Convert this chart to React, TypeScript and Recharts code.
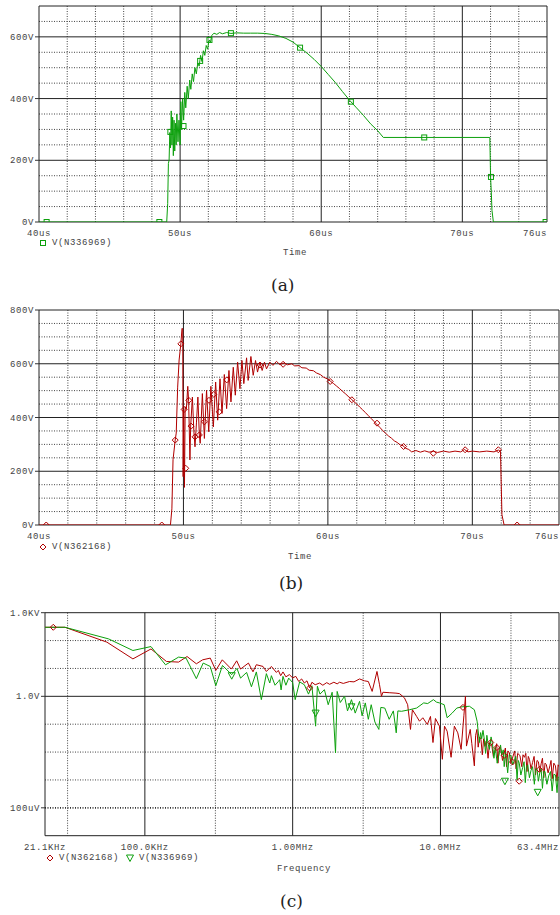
import React from "react";
import { ComposedChart, Line, Scatter, XAxis, YAxis, CartesianGrid } from "recharts";

const GREEN = "#0ca00c";
const RED = "#b00000";
const MONO = "'Liberation Mono', 'DejaVu Sans Mono', monospace";

// (a) V(N336969) transient: [time us, volts]
const waveA: [number, number][] = [
  [40, 0], [49.05, 0], [49.12, 60], [49.17, 190], [49.22, 200], [49.27, 290], [49.32, 240], [49.37, 360],
  [49.42, 250], [49.47, 340], [49.52, 215], [49.57, 330], [49.62, 230], [49.67, 320], [49.72, 250],
  [49.77, 350], [49.85, 260], [49.92, 330], [50.0, 250], [50.05, 390], [50.1, 300], [50.18, 400],
  [50.25, 330], [50.33, 420], [50.4, 370], [50.5, 440], [50.58, 400], [50.68, 460], [50.76, 430],
  [50.86, 480], [50.95, 455], [51.05, 500], [51.15, 480], [51.25, 515], [51.35, 505], [51.45, 540],
  [51.55, 520], [51.65, 555], [51.75, 540], [51.85, 572], [51.95, 560], [52.05, 590], [52.15, 583],
  [52.25, 605], [52.4, 612], [52.6, 608], [52.8, 614], [53.0, 610],
  [53.3, 614], [53.6, 611], [54.0, 613], [54.5, 612], [55.0, 612], [55.5, 612], [56.0, 611], [56.5, 608],
  [57.0, 603], [57.5, 595], [58.0, 583], [58.5, 565], [59.0, 547], [59.5, 527], [60.0, 504], [60.5, 478],
  [61.0, 452], [61.5, 423], [62.0, 395], [62.5, 370], [63.0, 345], [63.5, 318], [64.0, 296], [64.4, 274],
  [68.0, 274], [71.95, 274], [72.0, 146], [72.05, 100], [72.1, 38], [72.2, 0], [76, 0],
];
const marksA: [number, number][] = [
  [40.54, 0], [48.53, 0], [49.31, 292], [50.24, 311], [51.42, 522], [52.08, 590], [53.6, 612],
  [58.5, 565], [62.1, 390], [67.3, 274], [72.03, 146], [75.9, 0],
];

// (b) V(N362168) transient: [time us, volts]
const waveB: [number, number][] = [
  [40, 0], [49.1, 0], [49.2, 60], [49.28, 243], [49.43, 316], [49.5, 342], [49.6, 513], [49.7, 614],
  [49.82, 674], [49.9, 732], [49.95, 730], [49.98, 180], [50.02, 430], [50.07, 140], [50.12, 440],
  [50.2, 430], [50.3, 516], [50.36, 460], [50.45, 242], [50.5, 368], [50.62, 476], [50.72, 350],
  [50.8, 291], [50.9, 380], [51.0, 476], [51.1, 335], [51.16, 304], [51.31, 489], [51.45, 322],
  [51.6, 501], [51.75, 347], [51.9, 516], [52.07, 365], [52.23, 532], [52.37, 390], [52.53, 544],
  [52.67, 415], [52.83, 560], [52.99, 433], [53.15, 575], [53.29, 458], [53.45, 587], [53.59, 483],
  [53.75, 606], [53.91, 507], [54.05, 612], [54.18, 526], [54.37, 622], [54.48, 538], [54.67, 627],
  [54.83, 557], [54.99, 612], [55.13, 569], [55.29, 606], [55.45, 575], [55.61, 606], [55.75, 581],
  [55.98, 606], [56.2, 594], [56.44, 609], [56.67, 597], [57.0, 603], [57.2, 596], [57.5, 600],
  [57.7, 592], [58.0, 593], [58.2, 585], [58.5, 584], [58.7, 576], [59.0, 574], [59.2, 566], [59.5, 559],
  [59.7, 550], [60.0, 543], [60.2, 534], [60.4, 526], [60.6, 517], [60.8, 508], [61.0, 498], [61.2, 489],
  [61.4, 479], [61.6, 470], [61.8, 459], [62.0, 450], [62.2, 439], [62.4, 429], [62.6, 418], [62.8, 407],
  [63.0, 396], [63.2, 385], [63.4, 374], [63.6, 363], [63.8, 351], [64.0, 341], [64.2, 331], [64.4, 323],
  [64.6, 313], [64.8, 307], [65.0, 298], [65.2, 295], [65.4, 285], [65.6, 281], [65.8, 272], [66.1, 277],
  [66.4, 271], [66.7, 276], [67.0, 271], [67.3, 274], [67.6, 270], [68.0, 275], [68.4, 271], [68.8, 275],
  [69.2, 272], [69.45, 281], [69.7, 272], [70.0, 275], [70.5, 272], [71.0, 275], [71.5, 272], [71.8, 279],
  [71.95, 274], [72.0, 150], [72.05, 38], [72.2, 0], [76, 0],
];
const marksB: [number, number][] = [
  [40.5, 0], [48.5, 0], [49.43, 316], [49.82, 674], [50.05, 430], [50.16, 211], [50.37, 464],
  [50.53, 368], [50.8, 328], [51.1, 335], [51.45, 384], [51.77, 464], [52.1, 486], [52.48, 421],
  [53.0, 540], [55.3, 595], [56.9, 598], [60.16, 534], [61.66, 466], [63.4, 379], [65.24, 292],
  [67.3, 267], [69.5, 280], [71.8, 280], [73.1, 0],
];

const timeTicks = [40, 50, 60, 70, 76];
const timeLabels = ["40us", "50us", "60us", "70us", "76us"];
const timeMajor = [40, 50, 60, 70, 76];
const timeMinor = [42, 44, 46, 48, 52, 54, 56, 58, 62, 64, 66, 68, 72, 74];

const voltTicksA = [0, 200, 400, 600];
const voltLabelsA = ["0V", "200V", "400V", "600V"];
const voltMajorA = [0, 200, 400, 600, 700];
const voltMinorA = [50, 100, 150, 250, 300, 350, 450, 500, 550, 650];

const voltTicksB = [0, 200, 400, 600, 800];
const voltLabelsB = ["0V", "200V", "400V", "600V", "800V"];
const voltMajorB = [0, 200, 400, 600, 800];
const voltMinorB = [50, 100, 150, 250, 300, 350, 450, 500, 550, 650, 700, 750];

// (c) spectra: [frequency kHz, volts]
const specRed: [number, number][] = [
  [21.1, 300], [28.8, 300], [55.3, 88], [83, 22], [110, 50], [140, 17.8], [169, 16.9], [193, 26.8],
  [223, 14.7], [246, 20.4], [277, 23.5], [302, 8.5], [334, 20.4], [385, 9.5], [418, 18.8], [444, 9.5],
  [502, 15.6], [539, 7.6], [568, 13.6], [630, 11.8], [664, 7.8], [718, 11.8], [776, 7.2], [800, 8.5],
  [830, 5.5], [860, 7.5], [900, 5.0], [950, 6.0], [1000, 4.6], [1050, 5.2], [1100, 3.4], [1150, 4.2],
  [1200, 3.0], [1250, 3.6], [1302, 2.0], [1350, 3.2], [1420, 2.6], [1521, 3.0], [1600, 2.5], [1700, 3.1],
  [1778, 2.7], [1900, 3.2], [2000, 2.8], [2077, 3.2], [2200, 2.9], [2427, 3.4], [2600, 3.3], [2836, 4.2],
  [3064, 3.6], [3250, 3.4], [3450, 1.5], [3720, 7.8], [3870, 2.6], [3990, 1.0], [4080, 1.4], [4500, 1.35],
  [5000, 1.3], [5284, 1.25], [5706, 0.88], [6000, 0.5], [6270, 0.065], [6460, 0.33], [6900, 0.19],
  [7213, 0.128], [7600, 0.17], [8150, 0.098], [8560, 0.19], [8900, 0.022], [9250, 0.16], [9845, 0.085],
  [10300, 0.0055], [10650, 0.085], [11100, 0.056], [11800, 0.0065], [12420, 0.085], [13100, 0.049],
  [13800, 0.0125], [14400, 0.2], [14760, 1.0], [15000, 0.0164], [15900, 0.065], [16300, 0.02],
  [16955, 0.0032], [17300, 0.04], [17650, 0.065], [18000, 0.015], [18400, 0.035], [18800, 0.028],
  [19200, 0.008], [19600, 0.03], [20000, 0.016], [20400, 0.025], [21000, 0.006], [21500, 0.022],
  [22200, 0.019], [22800, 0.007], [23500, 0.0125], [24000, 0.02], [24500, 0.004], [25000, 0.015],
  [25600, 0.0125], [26300, 0.005], [27000, 0.0094], [27500, 0.014], [28000, 0.003], [28600, 0.011],
  [29260, 0.0094], [30000, 0.004], [31000, 0.0072], [31800, 0.011], [32500, 0.0025], [33300, 0.009],
  [34500, 0.0075], [35500, 0.003], [36200, 0.008], [37000, 0.0065], [37800, 0.009], [38500, 0.002],
  [39300, 0.007], [40000, 0.0055], [41000, 0.0025], [42000, 0.0042], [43000, 0.007], [44000, 0.0015],
  [45000, 0.005], [46000, 0.0045], [47000, 0.002], [48000, 0.0038], [49000, 0.006], [50000, 0.0012],
  [51000, 0.004], [52000, 0.0036], [53500, 0.0018], [55000, 0.0032], [56000, 0.005], [57000, 0.0011],
  [58500, 0.004], [60000, 0.0032], [61500, 0.0009], [62500, 0.0035], [63400, 0.003],
];
const specGreen: [number, number][] = [
  [21.1, 300], [28.8, 300], [56.8, 115], [83, 44], [110, 61], [138, 13.5], [169, 25.5], [190, 23.5],
  [223, 4.3], [248, 15.6], [277, 11.8], [302, 2.4], [335, 12.8], [387, 6.0], [420, 10], [444, 4.5],
  [488, 7.2], [526, 2.2], [568, 7.5], [614, 0.76], [664, 6.5], [700, 3.0], [718, 5.5], [760, 2.5],
  [800, 3.4], [817, 3.95], [835, 1.7], [860, 5.2], [900, 2.5], [940, 4.5], [1000, 3.1], [1040, 0.76],
  [1115, 3.3], [1200, 2.6], [1280, 1.2], [1350, 2.4], [1430, 0.085], [1470, 2.3], [1530, 1.2],
  [1640, 1.73], [1740, 0.5], [1850, 1.4], [1950, 0.0094], [2000, 1.5], [2100, 0.6], [2245, 1.0],
  [2350, 0.3], [2500, 0.76], [2650, 0.25], [2836, 0.66], [2950, 0.2], [3100, 0.58], [3250, 0.15],
  [3400, 0.5], [3600, 0.12], [3830, 0.065], [3950, 0.4], [4200, 0.38], [4500, 0.15], [4800, 0.3],
  [5020, 0.049], [5150, 0.3], [5450, 0.29], [6170, 0.33], [6900, 0.38], [7700, 0.58], [8200, 0.55],
  [8960, 0.76], [9400, 0.62], [9845, 0.58], [10600, 0.5], [11100, 0.17], [12000, 0.25], [12900, 0.38],
  [14000, 0.42], [15700, 0.44], [16955, 0.33], [17700, 0.128], [18336, 0.022], [18700, 0.05],
  [19000, 0.03], [19400, 0.06], [19830, 0.028], [20200, 0.009], [20600, 0.04], [21000, 0.02],
  [21440, 0.0125], [22000, 0.035], [22500, 0.02], [23000, 0.006], [23500, 0.015], [24200, 0.004],
  [25020, 0.0094], [25500, 0.018], [26000, 0.008], [26600, 0.012], [27000, 0.003], [27600, 0.01],
  [28500, 0.0018], [29200, 0.008], [30000, 0.0075], [30800, 0.0035], [31640, 0.005], [32300, 0.007],
  [33000, 0.001], [33600, 0.005], [34140, 0.004], [35000, 0.0015], [36000, 0.0028], [36800, 0.0045],
  [37500, 0.0008], [38200, 0.003], [39000, 0.0035], [40000, 0.0012], [41000, 0.0022], [42000, 0.003],
  [43180, 0.0007], [44000, 0.0025], [45000, 0.0025], [46000, 0.0009], [47000, 0.0018], [48000, 0.0025],
  [49000, 0.0005], [50000, 0.002], [51000, 0.002], [52500, 0.0007], [54000, 0.0014], [55500, 0.002],
  [57000, 0.0004], [58500, 0.0016], [60000, 0.0015], [61500, 0.00035], [62500, 0.0013], [63400, 0.0012],
];
const marksRed: [number, number][] = [
  [24, 300], [1302, 2.0], [14200, 0.4], [21900, 0.022], [24100, 0.0145], [27000, 0.0076],
  [30700, 0.0044], [34100, 0.0009], [46700, 0.0024],
];
const marksGreen: [number, number][] = [
  [387, 5.5], [1430, 0.25], [2500, 0.42], [27300, 0.0009], [45500, 0.00036],
];

const freqTicks = [21100, 100000, 1000000, 10000000, 63400000];
const freqLabels = ["21.1KHz", "100.0KHz", "1.00MHz", "10.0MHz", "63.4MHz"];
const freqMajor = [21100, 100000, 1000000, 10000000, 63400000];
const freqMinor = [30000, 300000, 3000000, 30000000];
const magTicks = [0.0001, 1, 1000];
const magLabels = ["100uV", "1.0V", "1.0KV"];
const magMajor = [0.00001, 1, 1000];
const magMinor = [0.001, 0.01, 0.1, 10, 100];
const magMid = [0.0001];

const toRows = (pairs: [number, number][], k = 1) => pairs.map(([x, v]) => ({ x: x * k, v }));

const font = { fontFamily: MONO, fontSize: 9, letterSpacing: 0.6, fill: "#444" };

const findIdx = (ticks: number[], v: number) =>
  ticks.findIndex((t) => Math.abs(t - v) <= Math.abs(t) * 1e-6);

const makeXTick = (ticks: number[], labels: string[]) => (p: any) => {
  const i = findIdx(ticks, p.payload.value);
  return (
    <text x={p.x} y={p.y + 11} dy="0.35em" textAnchor={i === ticks.length - 1 ? "end" : "middle"} {...font}>
      {labels[i]}
    </text>
  );
};

const makeYTick = (ticks: number[], labels: string[]) => (p: any) => {
  const i = findIdx(ticks, p.payload.value);
  return (
    <text x={p.x} y={p.y} dy="0.35em" textAnchor="end" {...font}>
      {labels[i]}
    </text>
  );
};

const square = (color: string) => (p: any) => (
  <rect x={p.cx - 2.5} y={p.cy - 2.5} width={5} height={5} fill="none" stroke={color} />
);
const diamond = (color: string) => (p: any) => (
  <path d={`M${p.cx},${p.cy - 3}L${p.cx + 3},${p.cy}L${p.cx},${p.cy + 3}L${p.cx - 3},${p.cy}Z`} fill="none" stroke={color} />
);
const triangle = (color: string) => (p: any) => (
  <path d={`M${p.cx - 3.5},${p.cy - 3}L${p.cx + 3.5},${p.cy - 3}L${p.cx},${p.cy + 3.5}Z`} fill="none" stroke={color} />
);

const dotted = { stroke: "#444", strokeDasharray: "1 1.5" };

function TransientPanel(props: any) {
  const { top, height, margin, yWidth, wave, marks, color, shape, yDomain, yTicks, yLabels, yMajor, yMinor } = props;
  return (
    <div style={{ position: "absolute", left: 0, top }}>
      <ComposedChart width={560} height={height} margin={margin}>
        <CartesianGrid horizontalValues={yMinor} verticalValues={timeMinor} {...dotted} />
        <CartesianGrid horizontalValues={yMajor} verticalValues={timeMajor} stroke="#222" />
        <XAxis
          type="number"
          dataKey="x"
          domain={[40, 76]}
          ticks={timeTicks}
          interval={0}
          allowDataOverflow
          axisLine={false}
          tickLine={false}
          tickSize={0}
          tickMargin={0}
          height={22}
          tick={makeXTick(timeTicks, timeLabels)}
        />
        <YAxis
          type="number"
          domain={yDomain}
          ticks={yTicks}
          interval={0}
          allowDataOverflow
          axisLine={false}
          tickSize={4}
          tickMargin={1}
          tickLine={{ stroke: "#333" }}
          width={yWidth}
          tick={makeYTick(yTicks, yLabels)}
        />
        <Line data={toRows(wave)} dataKey="v" stroke={color} strokeWidth={1} dot={false} isAnimationActive={false} />
        <Scatter data={toRows(marks)} dataKey="v" shape={shape(color)} isAnimationActive={false} />
      </ComposedChart>
    </div>
  );
}

const textStyle: React.CSSProperties = {
  position: "absolute",
  fontFamily: MONO,
  fontSize: 9,
  letterSpacing: 0.6,
  color: "#444",
  lineHeight: "10px",
  whiteSpace: "nowrap",
};
const captionStyle: React.CSSProperties = {
  position: "absolute",
  fontFamily: "'DejaVu Serif', 'Liberation Serif', serif",
  fontSize: 17,
  color: "#222",
  lineHeight: "20px",
  whiteSpace: "nowrap",
};

function Icon({ left, top, children }: any) {
  return (
    <svg style={{ position: "absolute", left: left - 5, top: top - 5 }} width={10} height={10}>
      {children}
    </svg>
  );
}

export default function App() {
  return (
    <div style={{ position: "relative", width: 560, height: 915, background: "#fff", overflow: "hidden" }}>
      <style>{"body{margin:0}"}</style>

      <TransientPanel
        top={0}
        height={250}
        margin={{ top: 6, right: 13, left: 0, bottom: 6 }}
        yWidth={39}
        wave={waveA}
        marks={marksA}
        color={GREEN}
        shape={square}
        yDomain={[0, 700]}
        yTicks={voltTicksA}
        yLabels={voltLabelsA}
        yMajor={voltMajorA}
        yMinor={voltMinorA}
      />
      <Icon left={43} top={243}>
        <rect x={2.5} y={2.5} width={5} height={5} fill="none" stroke={GREEN} />
      </Icon>
      <div style={{ ...textStyle, left: 52, top: 238 }}>V(N336969)</div>
      <div style={{ ...textStyle, left: 283, top: 248 }}>Time</div>
      <div style={{ ...captionStyle, left: 271, top: 275 }}>(a)</div>

      <TransientPanel
        top={300}
        height={250}
        margin={{ top: 10, right: 1, left: 0, bottom: 3 }}
        yWidth={39}
        wave={waveB}
        marks={marksB}
        color={RED}
        shape={diamond}
        yDomain={[0, 800]}
        yTicks={voltTicksB}
        yLabels={voltLabelsB}
        yMajor={voltMajorB}
        yMinor={voltMinorB}
      />
      <Icon left={43} top={547}>
        <path d="M5,2L8,5L5,8L2,5Z" fill="none" stroke={RED} />
      </Icon>
      <div style={{ ...textStyle, left: 52, top: 542 }}>V(N362168)</div>
      <div style={{ ...textStyle, left: 288, top: 552 }}>Time</div>
      <div style={{ ...captionStyle, left: 279, top: 573 }}>(b)</div>

      <div style={{ position: "absolute", left: 0, top: 600 }}>
        <ComposedChart width={560} height={260} margin={{ top: 12.7, right: 1, left: 0, bottom: 2.3 }}>
          <CartesianGrid horizontalValues={magMinor} verticalValues={freqMinor} {...dotted} />
          <CartesianGrid horizontalValues={magMid} vertical={false} stroke="#333" strokeWidth={1.6} strokeDasharray="1 1.5" />
          <CartesianGrid horizontalValues={magMajor} verticalValues={freqMajor} stroke="#222" />
          <XAxis
            type="number"
            dataKey="x"
            scale="log"
            domain={[21100, 63400000]}
            ticks={freqTicks}
            interval={0}
            allowDataOverflow
            axisLine={false}
            tickLine={false}
            tickSize={0}
            tickMargin={0}
            height={22}
            tick={makeXTick(freqTicks, freqLabels)}
          />
          <YAxis
            type="number"
            scale="log"
            domain={[0.00001, 1000]}
            ticks={magTicks}
            interval={0}
            allowDataOverflow
            axisLine={false}
            tickSize={4}
            tickMargin={1}
            tickLine={{ stroke: "#333" }}
            width={45}
            tick={makeYTick(magTicks, magLabels)}
          />
          <Line data={toRows(specRed, 1000)} dataKey="v" stroke={RED} strokeWidth={1} dot={false} isAnimationActive={false} />
          <Line data={toRows(specGreen, 1000)} dataKey="v" stroke={GREEN} strokeWidth={1} dot={false} isAnimationActive={false} />
          <Scatter data={toRows(marksRed, 1000)} dataKey="v" shape={diamond(RED)} isAnimationActive={false} />
          <Scatter data={toRows(marksGreen, 1000)} dataKey="v" shape={triangle(GREEN)} isAnimationActive={false} />
        </ComposedChart>
      </div>
      <Icon left={50} top={858}>
        <path d="M5,2L8,5L5,8L2,5Z" fill="none" stroke={RED} />
      </Icon>
      <div style={{ ...textStyle, left: 59, top: 853 }}>V(N362168)</div>
      <Icon left={130} top={858}>
        <path d="M1.5,2L8.5,2L5,8.5Z" fill="none" stroke={GREEN} />
      </Icon>
      <div style={{ ...textStyle, left: 139, top: 853 }}>V(N336969)</div>
      <div style={{ ...textStyle, left: 277, top: 864 }}>Frequency</div>
      <div style={{ ...captionStyle, left: 280, top: 891 }}>(c)</div>
    </div>
  );
}
